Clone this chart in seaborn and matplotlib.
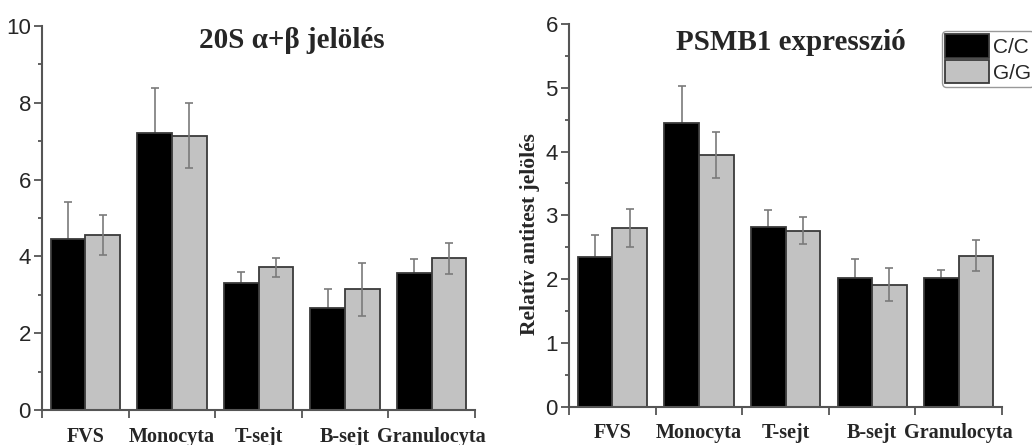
import numpy as np
import pandas as pd
import matplotlib
matplotlib.use("Agg")
import matplotlib.pyplot as plt
from matplotlib.ticker import FixedLocator, MultipleLocator
from matplotlib.patches import Patch
import seaborn as sns

# ---- data ----
cells = ["FVS", "Monocyta", "T-sejt", "B-sejt", "Granulocyta"]
genotypes = ["C/C", "G/G"]

# 20S alpha+beta labelling (mean and error)
s20_cc = [4.44, 7.20, 3.30, 2.66, 3.56]
s20_gg = [4.55, 7.14, 3.72, 3.15, 3.95]
s20_cc_err = [0.97, 1.19, 0.29, 0.50, 0.38]
s20_gg_err = [0.52, 0.85, 0.25, 0.69, 0.40]

# PSMB1 expression (mean and error)
psmb1_cc = [2.34, 4.44, 2.82, 2.01, 2.01]
psmb1_gg = [2.80, 3.95, 2.76, 1.91, 2.37]
psmb1_cc_err = [0.35, 0.59, 0.27, 0.31, 0.14]
psmb1_gg_err = [0.30, 0.36, 0.21, 0.26, 0.25]

left_yticks = [0, 2, 4, 6, 8, 10]
right_yticks = [0, 1, 2, 3, 4, 5, 6]

# ---- style ----
sns.set_style("ticks")
plt.rcParams["font.family"] = ["Liberation Sans", "DejaVu Sans"]
SERIF = ["Liberation Serif", "DejaVu Serif"]

BAR_COLORS = ["#000000", "#c2c2c2"]
EDGE = "#3a3a3a"
SPINE = "#555555"
ERR = "#7a7a7a"


def long_frame(cc, gg):
    return pd.DataFrame({
        "cell": cells * 2,
        "genotype": [genotypes[0]] * len(cells) + [genotypes[1]] * len(cells),
        "value": list(cc) + list(gg),
    })


def draw_panel(ax, cc, gg, cc_err, gg_err, ymax, yticks, minor_step, title, title_xy):
    df = long_frame(cc, gg)
    sns.barplot(data=df, x="cell", y="value", hue="genotype", order=cells,
                hue_order=genotypes, palette=BAR_COLORS, errorbar=None,
                edgecolor=EDGE, linewidth=1.3, width=0.8, legend=False,
                ax=ax, zorder=2)
    # error bars placed on the bars seaborn drew
    for container, errs, z in zip(ax.containers, [cc_err, gg_err], [1, 3]):
        xs = [p.get_x() + p.get_width() / 2 for p in container.patches]
        hs = [p.get_height() for p in container.patches]
        ax.errorbar(xs, hs, yerr=errs, fmt="none", ecolor=ERR,
                    elinewidth=1.2, capsize=3, capthick=1.2, zorder=z)

    ax.set_xlim(-0.5, len(cells) - 0.5)
    ax.set_ylim(0, ymax)
    ax.set_xlabel("")
    ax.set_ylabel("")

    sns.despine(ax=ax)
    for side in ("left", "bottom"):
        ax.spines[side].set_color(SPINE)
        ax.spines[side].set_linewidth(1.5)

    # y axis: numeric ticks with minor marks between
    ax.yaxis.set_major_locator(FixedLocator(yticks))
    ax.yaxis.set_minor_locator(MultipleLocator(minor_step))
    ax.tick_params(axis="y", which="major", length=6, width=1.3,
                   color=SPINE, labelsize=16, pad=2)
    ax.tick_params(axis="y", which="minor", length=3, width=1.3, color=SPINE)

    # x axis: category names centred, tick marks at group boundaries
    ax.xaxis.set_minor_locator(FixedLocator(np.arange(-0.5, len(cells), 1.0)))
    ax.tick_params(axis="x", which="major", length=0, pad=12)
    ax.tick_params(axis="x", which="minor", length=6, width=1.3, color=SPINE)
    for lab in ax.get_xticklabels():
        lab.set_fontfamily(SERIF)
        lab.set_fontweight("bold")
        lab.set_fontsize(14.5)

    ax.text(title_xy[0], title_xy[1], title, transform=ax.transAxes,
            ha="center", va="baseline", fontsize=21, fontweight="bold",
            family=SERIF)


fig = plt.figure(figsize=(10.32, 4.45), dpi=100)
ax1 = fig.add_axes([0.0407, 0.0787, 0.4196, 0.863])
ax2 = fig.add_axes([0.5514, 0.0861, 0.4196, 0.860])

draw_panel(ax1, s20_cc, s20_gg, s20_cc_err, s20_gg_err, 10, left_yticks, 1,
           "20S \u03b1+\u03b2 jelölés", (0.577, 0.943))
draw_panel(ax2, psmb1_cc, psmb1_gg, psmb1_cc_err, psmb1_gg_err, 6, right_yticks, 0.5,
           "PSMB1 expresszió", (0.513, 0.932))

ax2.set_ylabel("Relatív antitest jelölés", family=SERIF, fontweight="bold",
               fontsize=15.5)
ax2.yaxis.set_label_coords(-0.066, 0.45)

handles = [Patch(facecolor=c, edgecolor=EDGE, linewidth=1.3) for c in BAR_COLORS]
fig.legend(handles, genotypes, loc="upper left",
           bbox_to_anchor=(942 / 1032, 1 - 31 / 445), borderaxespad=0,
           fontsize=15, handlelength=2.1, handleheight=1.35, handletextpad=0.2,
           labelspacing=0.12, borderpad=0.15, frameon=True, fancybox=True,
           edgecolor="#999999", facecolor="white", framealpha=1)

fig.savefig("out.png", dpi=100)
